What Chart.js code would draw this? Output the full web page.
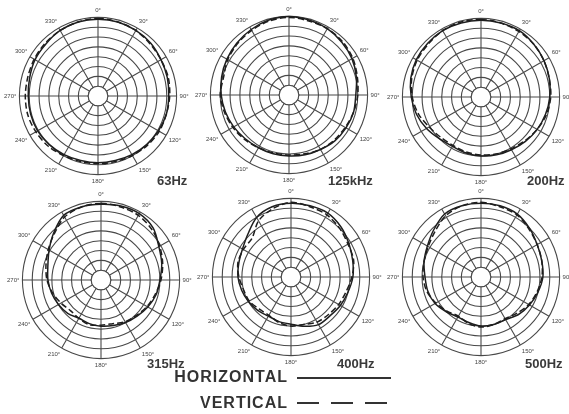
<!DOCTYPE html>
<html>
<head>
<meta charset="utf-8">
<script src="https://cdn.jsdelivr.net/npm/chart.js@4.4.0/dist/chart.umd.min.js"></script>
<style>
  html, body { margin: 0; padding: 0; background: #fff; overflow: hidden; }
  #wrap { position: relative; width: 569px; height: 414px; font-family: "Liberation Sans", Arial, sans-serif; color: #333; }
  .plot { position: absolute; }
  .freq { position: absolute; font-weight: bold; font-size: 13px; color: #3a3a3a; }
  .leg { position: absolute; font-weight: bold; font-size: 16px; letter-spacing: 1px; color: #333; text-align: right; width: 140px; }
  svg { position: absolute; }
</style>
</head>
<body>
<div id="wrap">
  <canvas id="c0" class="plot"></canvas>
  <canvas id="c1" class="plot"></canvas>
  <canvas id="c2" class="plot"></canvas>
  <canvas id="c3" class="plot"></canvas>
  <canvas id="c4" class="plot"></canvas>
  <canvas id="c5" class="plot"></canvas>

  <div class="leg" style="left:148px; top:368px;">HORIZONTAL</div>
  <div class="leg" style="left:148px; top:394px;">VERTICAL</div>
  <svg width="100" height="40" style="left:295px; top:370px;">
    <line x1="2" y1="8" x2="96" y2="8" stroke="#333" stroke-width="2"/>
    <line x1="2" y1="33" x2="96" y2="33" stroke="#333" stroke-width="2" stroke-dasharray="22,12"/>
  </svg>
</div>

<script>
// angle labels, every 15 degrees (grid lines / labels only every 30)
const angles = ['0°','15°','30°','45°','60°','75°','90°','105°','120°','135°','150°','165°',
                '180°','195°','210°','225°','240°','255°','270°','285°','300°','315°','330°','345°'];

const freqs = ['63Hz', '125kHz', '200Hz', '315Hz', '400Hz', '500Hz'];

// levels in dB (outer ring = 0 dB, centre = -40 dB)
const h63  = [-1,-1,-1.5,-2,-3,-3.5,-4,-4,-4.5,-5,-5.5,-6,-6,-6,-5.5,-5,-4.5,-4.5,-4.5,-4,-3,-2.5,-1.5,-1];
const v63  = [-0.5,-1,-1.5,-2.5,-3,-3,-3.5,-4,-4,-4.5,-5,-5.5,-5.5,-5.5,-5,-4,-3.5,-3,-3,-3,-2.5,-2,-1.5,-1];

const h125 = [0,-0.5,-1,-2,-3,-4.5,-6,-6,-6.5,-7,-8,-8.5,-9,-9,-9,-8.5,-7.5,-6.5,-5.5,-4.5,-3.5,-2.5,-1.5,-0.5];
const v125 = [-0.5,-1,-1,-1.5,-2.5,-4,-5,-6,-7,-7.5,-8,-9,-9.5,-9.5,-9,-8,-7,-6,-5,-5.5,-4,-3,-2,-1];

const h200 = [-1,-1,-1,-2,-3,-4,-5,-6,-7,-8,-9,-9.5,-10,-10.5,-11,-10,-8,-6,-4.5,-3,-2,-1.5,-1,-1];
const v200 = [-0.5,-1,-1.5,-2,-3,-4,-4.5,-5.5,-7,-8.5,-9.5,-10,-10.5,-11,-11.5,-11,-9.5,-7,-5,-3.5,-2.5,-2,-1,-0.5];

const h315 = [-1.5,-1,-1,-2.5,-6,-8,-10,-11,-12.5,-14,-15,-16,-16.5,-17,-17.5,-16,-15,-14,-13,-12,-9.5,-6,-2,-1.5];
const v315 = [-1,-1.5,-2,-3.5,-5.5,-7.5,-9.5,-11.5,-13,-14.5,-15.5,-17,-17,-16.5,-17.5,-18,-16.5,-14.5,-12.5,-11,-9,-6.5,-3,-1.5];

const h400 = [-2.5,-2.5,-2.5,-4,-6,-7.5,-8.5,-10,-11,-12,-12,-14,-16,-16.5,-17,-16,-15,-14,-13,-12.5,-11.5,-9,-5,-3];
const v400 = [-2,-3,-3.5,-5,-6.5,-7,-9,-11,-12,-13,-13.5,-15,-15,-16,-17.5,-17,-15.5,-15,-13.5,-12,-12,-12,-7,-4];

const h500 = [-2.5,-2.5,-3,-5,-7,-8,-8.5,-10,-11.5,-13,-15,-15,-15,-16,-16.5,-15,-13,-12,-11.5,-10,-8.5,-6,-3,-2.5];
const v500 = [-2,-3,-3.5,-5.5,-7,-8,-9,-10.5,-12,-14,-15.5,-15,-14.5,-15.5,-17,-15.5,-13.5,-11.5,-10.5,-10,-9,-7,-4,-2.5];

const horizontal = [h63, h125, h200, h315, h400, h500];
const vertical   = [v63, v125, v200, v315, v400, v500];

// where each plot sits on the page
const boxes = [
  {x: 3,   y: 2,   s: 188},
  {x: 194, y: 1,   s: 188},
  {x: 386, y: 3,   s: 188},
  {x: 6,   y: 186, s: 188},
  {x: 196, y: 183, s: 188},
  {x: 386, y: 183, s: 188}
];
const labelPos = [
  {x: 157, y: 173}, {x: 328, y: 173}, {x: 527, y: 173},
  {x: 147, y: 356}, {x: 337, y: 356}, {x: 525, y: 356}
];

const gridColor = '#484848';

// white hub in the middle, like the printed plots
const hubPlugin = {
  id: 'hub',
  beforeDatasetsDraw(chart) {
    const sc = chart.scales.r;
    const rad = sc.getDistanceFromCenterForValue(-35);
    const ctx = chart.ctx;
    ctx.save();
    ctx.beginPath();
    ctx.arc(sc.xCenter, sc.yCenter, rad, 0, Math.PI * 2);
    ctx.fillStyle = '#fff';
    ctx.fill();
    ctx.strokeStyle = gridColor;
    ctx.lineWidth = 1.1;
    ctx.stroke();
    ctx.restore();
  }
};

const wrap = document.getElementById('wrap');

freqs.forEach((f, i) => {
  const b = boxes[i];
  const cv = document.getElementById('c' + i);
  cv.style.left = b.x + 'px';
  cv.style.top = b.y + 'px';
  cv.width = b.s;
  cv.height = b.s;
  cv.style.width = b.s + 'px';
  cv.style.height = b.s + 'px';

  new Chart(cv, {
    type: 'radar',
    data: {
      labels: angles,
      datasets: [
        {
          label: 'HORIZONTAL',
          data: horizontal[i],
          borderColor: '#1e1e1e',
          borderWidth: 1.5,
          pointRadius: 0,
          fill: false,
          tension: 0.3
        },
        {
          label: 'VERTICAL',
          data: vertical[i],
          borderColor: '#1e1e1e',
          borderWidth: 1.5,
          borderDash: [6, 3],
          pointRadius: 0,
          fill: false,
          tension: 0.3
        }
      ]
    },
    options: {
      responsive: false,
      animation: false,
      layout: { padding: 0 },
      plugins: { legend: { display: false }, tooltip: { enabled: false } },
      scales: {
        r: {
          min: -40,
          max: 0,
          ticks: { stepSize: 5, display: false },
          grid: { circular: true, color: gridColor, lineWidth: 1.1 },
          angleLines: {
            color: ctx => (ctx.index % 2 === 0 ? gridColor : 'rgba(0,0,0,0)'),
            lineWidth: 1.1
          },
          pointLabels: {
            font: { size: 6, family: 'Liberation Sans' },
            color: '#444',
            padding: 3,
            callback: (label, idx) => (idx % 2 === 0 ? label : '')
          }
        }
      }
    },
    plugins: [hubPlugin]
  });

  const t = document.createElement('div');
  t.className = 'freq';
  t.textContent = f;
  t.style.left = labelPos[i].x + 'px';
  t.style.top = labelPos[i].y + 'px';
  wrap.appendChild(t);
});
</script>
</body>
</html>
